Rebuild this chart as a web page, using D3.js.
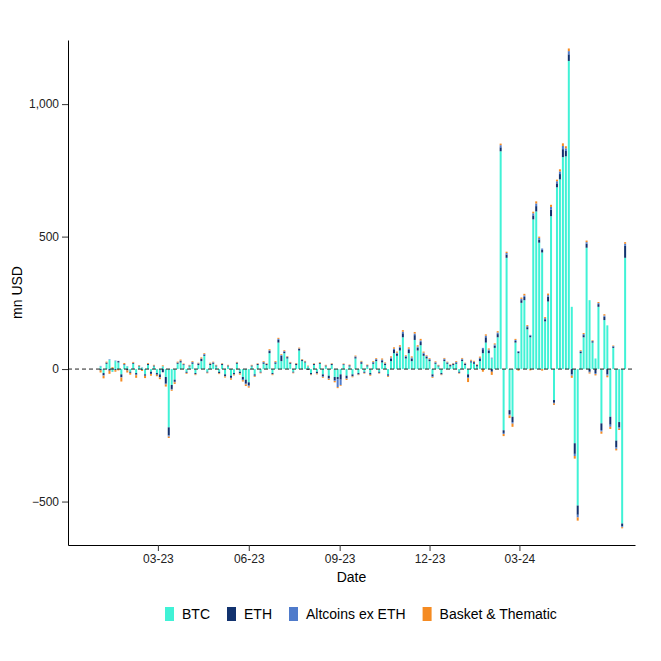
<!DOCTYPE html>
<html>
<head>
<meta charset="utf-8">
<script src="https://cdn.jsdelivr.net/npm/d3@7"></script>
<style>
  body { margin: 0; background: #fff; }
  text { font-family: "Liberation Sans", Arial, sans-serif; }
</style>
</head>
<body>
<svg id="chart" width="661" height="661"></svg>
<script>
// Flows in mn USD, one value every 3 days from 2023-01-02
const startDate = new Date(2023, 0, 2);
const stepDays = 3;
const seriesNames = ["BTC", "ETH", "Altcoins ex ETH", "Basket & Thematic"];
const seriesColors = ["#40F2D6", "#12326E", "#4F7BCB", "#F58B22"];

const btc = [
  10, -15, 20, 35, -10, 30, 25, -20, 15, 10,
  -10, 20, -15, 10, 5, -20, 15, -10, 10, -15,
  -20, 10, -30, -220, -60, -40, 20, 25, 15, -10,
  10, 20, -15, 15, 30, 50, -10, 15, 20, 10,
  -10, 15, -20, 10, -25, -15, 20, -10, -30, -40,
  -50, 10, -20, 15, -10, 20, 15, 60, -15, 20,
  100, 30, 60, 40, 20, -10, 15, 70, 30, 25,
  10, -15, 15, -10, 20, -20, 10, -25, 15, -30,
  -30, -20, 15, -25, 10, -20, 40, -15, 20, -10,
  10, -15, 20, 30, -10, 25, 15, -20, 30, 60,
  50, 70, 120, 40, 60, 30, 110, 70, 90, 50,
  40, 30, -20, 20, 10, -15, 30, 20, 10, 15,
  20, -10, 30, 15, -20, 25, 20, 10, 30, 60,
  100, 60, 40, 80, 120, 822, -231, 420, -155, -180,
  100, 60, 250, 260, 150, 120, 565, 595, 477, 440,
  180, 255, 577, -117, 686, 716, 800, 803, 1163, 235,
  -280, -515, 60, 120, 458, 260, 100, 40, 235, -205,
  185, 165, -180, 80, -270, -200, -583, 420
];
const eth = [
  -5, -8, 4, -6, 3, -4, 5, -10, 3, -5,
  -4, 3, -6, 2, -3, -5, 4, -8, 3, -6,
  -10, -12, -25, -30, -15, -8, 4, 5, 3, -4,
  3, 5, -4, 6, 8, 4, -3, 5, 4, 3,
  -5, 4, -6, 3, -8, -5, 4, -6, -10, -15,
  -12, 3, -5, 4, -3, 5, 4, 8, -4, 5,
  10, 20, 6, 5, 4, -3, 5, 6, 4, 3,
  -3, -5, 4, -6, 3, -8, 3, -10, 4, -12,
  -8, -20, 3, -10, 4, -6, 5, -5, 6, -4,
  4, -6, 5, 6, -4, 8, 5, -5, 10, 12,
  8, 10, 15, 6, 12, 10, 18, 10, 12, 8,
  6, 5, -8, 4, 3, -5, 6, 4, 5, 4,
  5, -4, 6, 5, -12, 4, 6, 5, 10, 15,
  20, 10, -10, 8, 12, 15, -10, 12, -15, -20,
  6, 5, 10, 12, 8, 6, 15, 20, 12, 10,
  8, 18, 25, -10, 15, 20, 30, 20, 25, -20,
  -40, -35, 5, 8, 15, -10, 5, -15, 10, -25,
  12, -20, -30, 5, -25, -20, -10, 45
];
const alts = [
  2, -2, 1, 2, -1, 2, 1, -2, 1, 1,
  -1, 1, -2, 1, 1, -1, 1, -1, 1, -1,
  -2, 1, -3, -5, -3, -2, 1, 2, 1, -1,
  1, 2, -1, 1, 2, 3, -1, 1, 2, 1,
  -1, 1, -2, 1, -2, -1, 1, -1, -2, -3,
  -3, 1, -2, 1, -1, 2, 1, 3, -1, 2,
  4, 3, 2, 2, 1, -1, 1, 2, 2, 1,
  1, -1, 1, -1, 1, -2, 1, -2, 1, -3,
  -30, -20, 1, -2, 1, -2, 3, -1, 2, -1,
  1, -1, 2, 2, -1, 3, 2, -2, 4, 5,
  4, 5, 6, 3, 5, 4, 6, 5, 6, 4,
  3, 3, -2, 2, 1, -1, 3, 2, 1, 2,
  2, -1, 3, 2, -2, 3, 2, 1, 3, 5,
  6, 4, 3, 5, 6, 8, -4, 6, -5, -6,
  4, 3, 5, 6, 4, 3, 8, 10, 6, 5,
  4, 6, 10, -3, 8, 10, 12, 10, 12, -5,
  -8, -10, 3, 4, 6, -3, 2, -4, 4, -6,
  5, -5, -8, 2, -6, -5, -4, 8
];
const basket = [
  -8, -10, 3, -12, 4, -6, -5, -15, 4, -8,
  -6, 3, -10, 2, -4, -8, 3, -6, 2, -5,
  -6, 3, -8, -5, -4, -6, 3, 4, 2, -3,
  2, 3, -3, 2, 4, 3, -2, 3, 2, 2,
  -3, 2, -4, 2, -5, -3, 2, -4, -5, -6,
  -5, 2, -3, 2, -2, 3, 2, 4, -3, 3,
  4, 3, 3, 2, 2, -2, 2, 3, 2, 2,
  2, -2, 2, -3, 2, -3, 2, -4, 2, -5,
  -4, -3, 2, -4, 2, -3, 3, -2, 3, -2,
  2, -3, 3, 3, -2, 4, 3, -3, 4, 5,
  4, 5, 6, 3, 5, 4, 6, 5, 6, 4,
  3, 3, -3, 3, 2, -2, 3, 2, 2, 2,
  3, -2, 3, 2, -15, 3, 3, 2, 4, -10,
  5, 4, -12, 4, 5, 6, -8, 5, -10, -12,
  4, -6, 5, 6, 4, -5, 6, 8, 5, -6,
  4, 6, 8, -5, 6, 8, 10, 8, 10, -8,
  -10, -12, 3, 4, 6, -4, 2, -5, 4, -8,
  5, -6, -8, 2, -6, -5, -4, 6
];

const yTicks = [-500, 0, 500, 1000];
const xTickDates = [new Date(2023, 2, 1), new Date(2023, 5, 1), new Date(2023, 8, 1),
                    new Date(2023, 11, 1), new Date(2024, 2, 1)];

const rows = btc.map((v, i) => ({
  date: d3.timeDay.offset(startDate, i * stepDays),
  "BTC": v, "ETH": eth[i], "Altcoins ex ETH": alts[i], "Basket & Thematic": basket[i]
}));

const svg = d3.select("#chart");
const margin = { left: 68, right: 26, top: 40, bottom: 116 };
const width = 661 - margin.left - margin.right;
const height = 661 - margin.top - margin.bottom;
const g = svg.append("g").attr("transform", `translate(${margin.left},${margin.top})`);

const x = d3.scaleTime()
  .domain([new Date(2022, 10, 30), new Date(2024, 5, 26)])
  .range([0, width]);
const y = d3.scaleLinear().domain([-664, 1242]).range([height, 0]);

const stack = d3.stack().keys(seriesNames).offset(d3.stackOffsetDiverging);
const layers = stack(rows);
const color = d3.scaleOrdinal().domain(seriesNames).range(seriesColors);

const barW = 2;
g.append("g").selectAll("g")
  .data(layers)
  .join("g")
  .attr("fill", d => color(d.key))
  .selectAll("rect")
  .data(d => d)
  .join("rect")
  .attr("x", d => x(d.data.date) - barW / 2)
  .attr("width", barW)
  .attr("y", d => y(Math.max(d[0], d[1])))
  .attr("height", d => Math.abs(y(d[0]) - y(d[1])));

// zero line
g.append("line")
  .attr("x1", 0).attr("x2", width)
  .attr("y1", y(0)).attr("y2", y(0))
  .attr("stroke", "#222").attr("stroke-dasharray", "4,3");

// axes
const xAxis = g.append("g")
  .attr("transform", `translate(0,${height})`)
  .call(d3.axisBottom(x).tickValues(xTickDates).tickFormat(d3.timeFormat("%m-%y")).tickSizeOuter(0));
const yAxis = g.append("g")
  .call(d3.axisLeft(y).tickValues(yTicks).tickSizeOuter(0));
[xAxis, yAxis].forEach(a => {
  a.select(".domain").attr("stroke", "#000");
  a.selectAll("text").attr("font-size", 12).attr("fill", "#222");
  a.selectAll(".tick line").attr("stroke", "#333");
});

g.append("text").attr("x", width / 2).attr("y", height + 37)
  .attr("text-anchor", "middle").attr("font-size", 14).text("Date");
g.append("text")
  .attr("transform", `translate(${-46},${height / 2}) rotate(-90)`)
  .attr("text-anchor", "middle").attr("font-size", 14).text("mn USD");

// legend
const legend = svg.append("g").attr("transform", "translate(165,614)");
let lx = 0;
seriesNames.forEach((name, i) => {
  const item = legend.append("g").attr("transform", `translate(${lx},0)`);
  item.append("rect").attr("x", 0).attr("y", -7).attr("width", 9).attr("height", 14)
    .attr("fill", seriesColors[i]);
  const t = item.append("text").attr("x", 17).attr("y", 5).attr("font-size", 14).text(name);
  lx += 17 + t.node().getComputedTextLength() + 17;
});
</script>
</body>
</html>
